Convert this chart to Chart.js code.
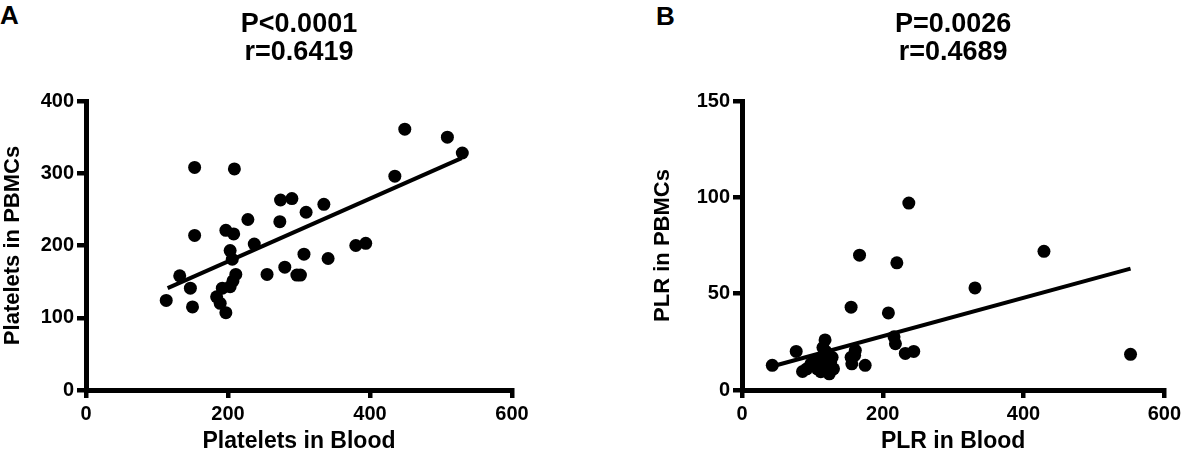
<!DOCTYPE html>
<html>
<head>
<meta charset="utf-8">
<script src="https://cdn.jsdelivr.net/npm/chart.js@4"></script>
<style>
  body { margin: 0; background: #fff; width: 1185px; height: 455px; position: relative; overflow: hidden; font-family: "Liberation Sans", Arial, sans-serif; }
  .panel { position: absolute; top: 0; height: 455px; }
  .tag { position: absolute; font-weight: bold; font-size: 26px; color: #000; line-height: 30px; }
</style>
</head>
<body>
<div class="tag" style="left:0px;top:0px;">A</div>
<div class="tag" style="left:656px;top:1px;">B</div>
<div class="panel" style="left:0px;width:560px;"><canvas id="chartA" width="560" height="455"></canvas></div>
<div class="panel" style="left:650px;width:535px;"><canvas id="chartB" width="535" height="455"></canvas></div>
<script>
// Panel A: platelets
const bloodPlatelets = [449, 509, 530, 435, 153, 209, 274, 290, 335, 310, 228, 273, 197, 208, 153, 237, 203, 206, 380, 394, 307, 341, 132, 211, 255, 280, 297, 302, 207, 203, 192, 147, 184, 189, 113, 150, 197];
const pbmcPlatelets = [361, 350, 328, 296, 308, 306, 263, 265, 257, 246, 236, 233, 221, 216, 214, 202, 193, 181, 200, 203, 188, 182, 158, 160, 160, 170, 159, 159, 151, 143, 141, 141, 129, 120, 124, 115, 107];
const fitAx = [115, 529];
const fitAy = [141, 321];

// Panel B: PLR
const bloodPLR = [237, 167, 220, 429, 331, 155, 208, 552, 216, 218, 232, 244, 43, 77, 86, 98, 107, 112, 118, 119, 121, 124, 112, 126, 161, 156, 155, 175, 128, 104, 115, 122, 109, 92, 130, 117, 160];
const pbmcPLR = [97, 70, 66, 72, 53, 43, 40, 18.5, 27.6, 24, 19, 20, 12.8, 20, 9.6, 13.6, 11, 16, 26, 20, 12.8, 8.4, 9.5, 14.5, 20.6, 13.6, 17, 12.8, 17, 15, 22, 16, 12, 11, 11, 10, 18];
const fitBx = [50, 552];
const fitBy = [13, 63];

const titlesA = ['P<0.0001', 'r=0.6419'];
const titlesB = ['P=0.0026', 'r=0.4689'];
const xTicks = [0, 200, 400, 600];
const yTicksA = [0, 100, 200, 300, 400];
const yTicksB = [0, 50, 100, 150];

const FONT = '"Liberation Sans", Arial, sans-serif';

// two-line stats heading, centred over the plot area
const statsTitle = {
  id: 'statsTitle',
  afterDraw(chart, args, opts) {
    const { ctx, chartArea } = chart;
    const cx = (chartArea.left + chartArea.right) / 2;
    ctx.save();
    ctx.fillStyle = '#000';
    ctx.textAlign = 'center';
    ctx.textBaseline = 'middle';
    ctx.font = 'bold 27px ' + FONT;
    opts.lines.forEach((line, i) => ctx.fillText(line, cx, 25 + i * 28));
    ctx.restore();
  }
};

function toPoints(xs, ys) {
  return xs.map((x, i) => ({ x: x, y: ys[i] }));
}

function makeChart(id, cfg) {
  const ctx = document.getElementById(id).getContext('2d');
  return new Chart(ctx, {
    type: 'scatter',
    data: {
      datasets: [
        {
          data: toPoints(cfg.xs, cfg.ys),
          backgroundColor: '#000',
          borderColor: '#000',
          pointRadius: 6.5,
          pointBorderWidth: 0
        },
        {
          type: 'line',
          data: toPoints(cfg.fitX, cfg.fitY),
          borderColor: '#000',
          borderWidth: 4,
          pointRadius: 0,
          fill: false
        }
      ]
    },
    plugins: [statsTitle],
    options: {
      responsive: false,
      animation: false,
      events: [],
      clip: false,
      layout: { padding: { left: 0, right: cfg.padRight, top: 101, bottom: 0 } },
      plugins: {
        legend: { display: false },
        tooltip: { enabled: false },
        title: { display: false },
        statsTitle: { lines: cfg.title }
      },
      scales: {
        x: {
          type: 'linear',
          min: 0,
          max: 600,
          afterBuildTicks: axis => { axis.ticks = xTicks.map(v => ({ value: v })); },
          afterFit: axis => { axis.height = 65; },
          border: { display: true, color: '#000', width: 5 },
          grid: { display: true, drawOnChartArea: false, drawTicks: true, tickLength: 8, color: '#000', lineWidth: 4.5 },
          ticks: { color: '#000', padding: 4, font: { family: FONT, size: 20, weight: 'bold' } },
          title: { display: true, text: cfg.xTitle, color: '#000', padding: { top: 0, bottom: 0 }, font: { family: FONT, size: 23, weight: 'bold' } }
        },
        y: {
          type: 'linear',
          min: 0,
          max: cfg.yMax,
          afterBuildTicks: axis => { axis.ticks = cfg.yTicks.map(v => ({ value: v })); },
          afterFit: axis => { axis.width = cfg.yWidth; },
          border: { display: true, color: '#000', width: 5 },
          grid: { display: true, drawOnChartArea: false, drawTicks: true, tickLength: 9, color: '#000', lineWidth: 4.5 },
          ticks: { color: '#000', padding: 3, font: { family: FONT, size: 20, weight: 'bold' } },
          title: { display: true, text: cfg.yTitle, color: '#000', padding: { top: 0, bottom: 0 }, font: { family: FONT, size: 22, weight: 'bold' } }
        }
      }
    }
  });
}

makeChart('chartA', {
  xs: bloodPlatelets, ys: pbmcPlatelets, fitX: fitAx, fitY: fitAy,
  title: titlesA, xTitle: 'Platelets in Blood', yTitle: 'Platelets in PBMCs',
  yMax: 400, yTicks: yTicksA, yWidth: 86, padRight: 48
});

makeChart('chartB', {
  xs: bloodPLR, ys: pbmcPLR, fitX: fitBx, fitY: fitBy,
  title: titlesB, xTitle: 'PLR in Blood', yTitle: 'PLR in PBMCs',
  yMax: 150, yTicks: yTicksB, yWidth: 92, padRight: 18
});
</script>
</body>
</html>
